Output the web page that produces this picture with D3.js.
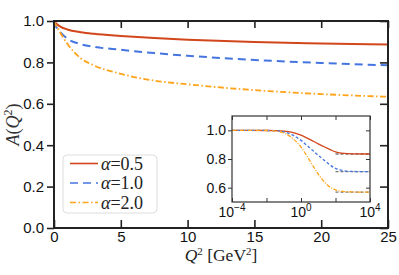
<!DOCTYPE html>
<html>
<head>
<meta charset="utf-8">
<script src="https://cdn.jsdelivr.net/npm/d3@7"></script>
<style>
  body { margin: 0; background: #fff; }
  svg { display: block; }
  .tick text { font-family: "Liberation Sans", Arial, sans-serif; }
</style>
</head>
<body>
<script>
const w = 399;
const h = 275;

// * DATA
const alphas = ["0.5", "1.0", "2.0"];
const colors = ["#d2461c", "#4575e0", "#ffa31a"];
const dashes = [null, "8,5", "6,2.5,1.5,2.5"];

// main panel, Q^2 in GeV^2
const q2Main = [0, 0.1, 0.25, 0.5, 1, 2, 3, 5, 7.5, 10, 15, 20, 25];
const aRed = [1.0, 0.992, 0.983, 0.972, 0.959, 0.946, 0.938, 0.928, 0.918, 0.910, 0.898, 0.891, 0.886];
const aBlue = [1.0, 0.982, 0.962, 0.944, 0.915, 0.888, 0.875, 0.861, 0.845, 0.832, 0.812, 0.797, 0.786];
const aOrange = [1.0, 0.985, 0.968, 0.94, 0.89, 0.82, 0.785, 0.745, 0.712, 0.694, 0.666, 0.647, 0.634];

// inset, log10 of Q^2
const logQ2Inset = [-4, -3, -2, -1.5, -1, -0.5, 0, 0.5, 1, 1.4, 1.75, 2, 2.5, 3, 4];
const insetRed = [1, 1, 0.999, 0.998, 0.995, 0.986, 0.966, 0.937, 0.906, 0.882, 0.862, 0.850, 0.839, 0.836, 0.835];
const insetBlue = [1, 1, 0.999, 0.997, 0.99, 0.968, 0.93, 0.878, 0.826, 0.786, 0.752, 0.735, 0.718, 0.713, 0.712];
const insetOrange = [1, 1, 0.999, 0.995, 0.982, 0.945, 0.883, 0.79, 0.695, 0.634, 0.598, 0.585, 0.573, 0.570, 0.569];
const asymptotes = [0.835, 0.712, 0.569];

const xTicks = [0, 5, 10, 15, 20, 25];
const yTicks = [0, 0.2, 0.4, 0.6, 0.8, 1.0];
const insetYTicks = [0.6, 0.8, 1.0];
const insetXTicks = [-4, -2, 0, 2, 4];
const insetXLabels = [-4, 0, 4];

const mainSeries = [aRed, aBlue, aOrange];
const insetSeries = [insetRed, insetBlue, insetOrange];

// * SVG BASE SETUP
const svg = d3.select("body").append("svg").attr("width", w).attr("height", h);

const m = { left: 54, right: 388, top: 21, bottom: 228 };
const xScale = d3.scaleLinear().domain([0, 25]).range([m.left, m.right]);
const yScale = d3.scaleLinear().domain([0, 1]).range([m.bottom, m.top]);

const frameColor = "#222";

// * MAIN AXES
function styleAxis(g, size) {
	g.select(".domain").remove();
	g.selectAll(".tick line").attr("stroke", frameColor).attr("stroke-width", 1.6);
	g.selectAll(".tick text").attr("fill", "#111").style("font-size", size + "px");
}

svg.append("g")
	.attr("transform", "translate(0," + m.bottom + ")")
	.call(d3.axisBottom(xScale).tickValues(xTicks).tickFormat(d3.format("d")).tickSize(-8))
	.call((g) => styleAxis(g, 15))
	.call((g) => g.selectAll(".tick text").attr("dy", "0.71em").attr("y", 3));
svg.append("g")
	.attr("transform", "translate(0," + m.top + ")")
	.call(d3.axisTop(xScale).tickValues(xTicks).tickFormat("").tickSize(-7))
	.call((g) => styleAxis(g, 15));
svg.append("g")
	.attr("transform", "translate(" + m.left + ",0)")
	.call(d3.axisLeft(yScale).tickValues(yTicks).tickFormat(d3.format(".1f")).tickSize(7).tickPadding(3))
	.call((g) => styleAxis(g, 15));
svg.append("g")
	.attr("transform", "translate(" + m.right + ",0)")
	.call(d3.axisRight(yScale).tickValues(yTicks).tickFormat("").tickSize(-8))
	.call((g) => styleAxis(g, 15));

// * MAIN CURVES
const line = d3.line()
	.x((d) => xScale(d[0]))
	.y((d) => yScale(d[1]))
	.curve(d3.curveMonotoneX);

mainSeries.forEach((s, i) => {
	svg.append("path")
		.datum(q2Main.map((q, j) => [q, s[j]]))
		.attr("fill", "none")
		.attr("stroke", colors[i])
		.attr("stroke-width", i === 2 ? 1.8 : 2)
		.attr("stroke-dasharray", dashes[i])
		.attr("d", line);
});

svg.append("rect")
	.attr("x", m.left).attr("y", m.top)
	.attr("width", m.right - m.left).attr("height", m.bottom - m.top)
	.attr("fill", "none").attr("stroke", frameColor).attr("stroke-width", 2);

// * AXIS TITLES
const serif = "'Liberation Serif', 'Times New Roman', serif";
const xt = svg.append("text")
	.attr("x", (m.left + m.right) / 2).attr("y", 261)
	.attr("text-anchor", "middle")
	.style("font-family", serif).style("font-size", "17.5px").attr("fill", "#222");
xt.append("tspan").style("font-style", "italic").text("Q");
xt.append("tspan").attr("dy", -6).style("font-size", "11px").text("2");
xt.append("tspan").attr("dy", 6).text(" [GeV");
xt.append("tspan").attr("dy", -6).style("font-size", "11px").text("2");
xt.append("tspan").attr("dy", 6).text("]");

const yt = svg.append("text")
	.attr("transform", "translate(19," + (m.top + m.bottom) / 2 + ") rotate(-90)")
	.attr("text-anchor", "middle")
	.style("font-family", serif).style("font-size", "18px").attr("fill", "#333");
yt.append("tspan").style("font-style", "italic").text("A");
yt.append("tspan").text("(");
yt.append("tspan").style("font-style", "italic").text("Q");
yt.append("tspan").attr("dy", -7).style("font-size", "12px").text("2");
yt.append("tspan").attr("dy", 7).text(")");

// * LEGEND
const legend = svg.append("g");
legend.append("rect")
	.attr("x", 63).attr("y", 155).attr("width", 94).attr("height", 58)
	.attr("rx", 4).attr("fill", "#fff").attr("stroke", "#ddd");
alphas.forEach((a, i) => {
	const y = 163.5 + i * 19.5;
	legend.append("line")
		.attr("x1", 70).attr("x2", 98).attr("y1", y).attr("y2", y)
		.attr("stroke", colors[i]).attr("stroke-width", i === 2 ? 1.4 : 1.6)
		.attr("stroke-dasharray", dashes[i]);
	const t = legend.append("text")
		.attr("x", 101).attr("y", y + 6)
		.style("font-family", serif).style("font-size", "18px").attr("fill", "#222");
	t.append("tspan").style("font-style", "italic").text("α");
	t.append("tspan").text("=" + a);
});

// * INSET
const ins = { left: 232, right: 370, top: 116, bottom: 202 };
const ix = d3.scaleLinear().domain([-4, 4]).range([ins.left, ins.right]);
const iy = d3.scaleLinear().domain([0.5, 1.1]).range([ins.bottom, ins.top]);

svg.append("rect")
	.attr("x", ins.left).attr("y", ins.top)
	.attr("width", ins.right - ins.left).attr("height", ins.bottom - ins.top)
	.attr("fill", "#fff");

function insetAxis(g) {
	g.select(".domain").remove();
	g.selectAll(".tick line").attr("stroke", "#333").attr("stroke-width", 1);
	g.selectAll(".tick text").attr("fill", "#111").style("font-size", "14px");
}

svg.append("g")
	.attr("transform", "translate(0," + ins.bottom + ")")
	.call(d3.axisBottom(ix).tickValues(insetXTicks).tickFormat("").tickSize(-4))
	.call(insetAxis);
svg.append("g")
	.attr("transform", "translate(0," + ins.top + ")")
	.call(d3.axisTop(ix).tickValues(insetXTicks).tickFormat("").tickSize(-4))
	.call(insetAxis);
svg.append("g")
	.attr("transform", "translate(" + ins.left + ",0)")
	.call(d3.axisLeft(iy).tickValues(insetYTicks).tickFormat(d3.format(".1f")).tickSize(4).tickPadding(2))
	.call(insetAxis);
svg.append("g")
	.attr("transform", "translate(" + ins.right + ",0)")
	.call(d3.axisRight(iy).tickValues(insetYTicks).tickFormat("").tickSize(-4))
	.call(insetAxis);

// log tick labels 10^n
insetXLabels.forEach((p) => {
	const t = svg.append("text")
		.attr("x", ix(p)).attr("y", 217)
		.attr("text-anchor", "middle")
		.style("font-family", "'Liberation Sans', Arial, sans-serif")
		.style("font-size", "14px").attr("fill", "#111");
	t.append("tspan").text("10");
	t.append("tspan").attr("dy", -6).style("font-size", "10px")
		.text(p < 0 ? "\u2212" + Math.abs(p) : String(p));
});

const iline = d3.line()
	.x((d) => ix(d[0]))
	.y((d) => iy(d[1]))
	.curve(d3.curveMonotoneX);

asymptotes.forEach((a) => {
	svg.append("line")
		.attr("x1", ix(2)).attr("x2", ix(4))
		.attr("y1", iy(a)).attr("y2", iy(a))
		.attr("stroke", "#777").attr("stroke-width", 1.3)
		.attr("stroke-dasharray", "3,2");
});

insetSeries.forEach((s, i) => {
	svg.append("path")
		.datum(logQ2Inset.map((q, j) => [q, s[j]]))
		.attr("fill", "none")
		.attr("stroke", colors[i])
		.attr("stroke-width", 1.3)
		.attr("stroke-dasharray", i === 0 ? null : (i === 1 ? "3,2" : "4,1.5,1,1.5"))
		.attr("d", iline);
});

svg.append("rect")
	.attr("x", ins.left).attr("y", ins.top)
	.attr("width", ins.right - ins.left).attr("height", ins.bottom - ins.top)
	.attr("fill", "none").attr("stroke", "#333").attr("stroke-width", 1.2);
</script>
</body>
</html>
